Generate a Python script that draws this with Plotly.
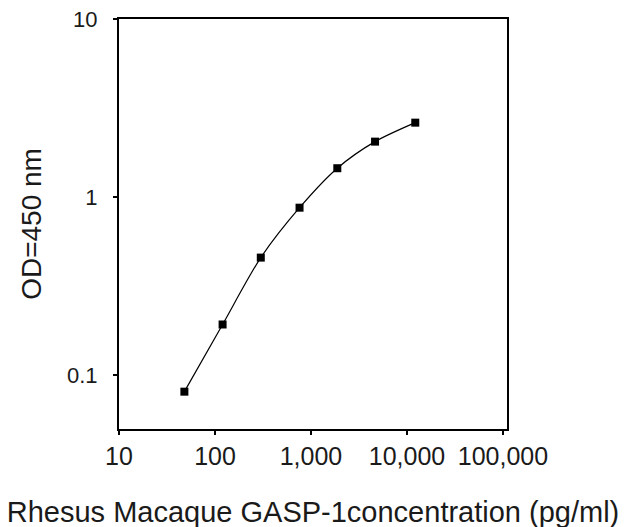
import plotly.graph_objects as go

# Data
concentration = [48, 120, 300, 760, 1880, 4650, 12200]
od450 = [0.081, 0.193, 0.458, 0.873, 1.454, 2.05, 2.62]

x_tick_vals = [10, 100, 1000, 10000, 100000]
x_tick_text = ["10", "100", "1,000", "10,000", "100,000"]
y_tick_vals = [0.1, 1, 10]
y_tick_text = ["0.1", "1", "10"]

x_title = "Rhesus Macaque GASP-1concentration (pg/ml)"
y_title = "OD=450 nm"

FONT = "Liberation Sans, Arial, sans-serif"
TXT = "#1a1a1a"

fig = go.Figure()
fig.add_trace(go.Scatter(
    x=concentration, y=od450,
    mode="lines+markers",
    line=dict(color="black", width=1.2, shape="spline", smoothing=0.8),
    marker=dict(symbol="square", size=8, color="black"),
    showlegend=False,
))

# the page adds an 8px body margin, so the figure is drawn 8px smaller
fig.update_layout(
    width=636, height=521,
    margin=dict(l=111, r=137, t=11, b=100),
    paper_bgcolor="white", plot_bgcolor="white",
    font=dict(family=FONT, color=TXT),
    xaxis=dict(
        type="log", range=[1, 5.042], automargin=False,
        tickvals=x_tick_vals, ticktext=x_tick_text,
        ticks="outside", ticklen=4, tickwidth=1.5, tickcolor="black",
        ticklabelstandoff=0, ticklabeloverflow="allow",
        showline=True, linecolor="black", linewidth=2, mirror=True,
        showgrid=False, zeroline=False,
        tickfont=dict(size=25, family=FONT, color=TXT),
        title=dict(text=x_title, font=dict(size=29, family=FONT, color=TXT), standoff=33),
    ),
    yaxis=dict(
        type="log", range=[-1.301, 1], automargin=False,
        tickvals=y_tick_vals, ticktext=y_tick_text,
        ticks="outside", ticklen=4, tickwidth=1.5, tickcolor="black",
        ticklabelstandoff=11, ticklabeloverflow="allow",
        showline=True, linecolor="black", linewidth=2, mirror=True,
        showgrid=False, zeroline=False,
        tickfont=dict(size=22, family=FONT, color=TXT),
        title=dict(text=y_title, font=dict(size=28, family=FONT, color=TXT), standoff=17),
    ),
)

fig.write_html("out.html")
